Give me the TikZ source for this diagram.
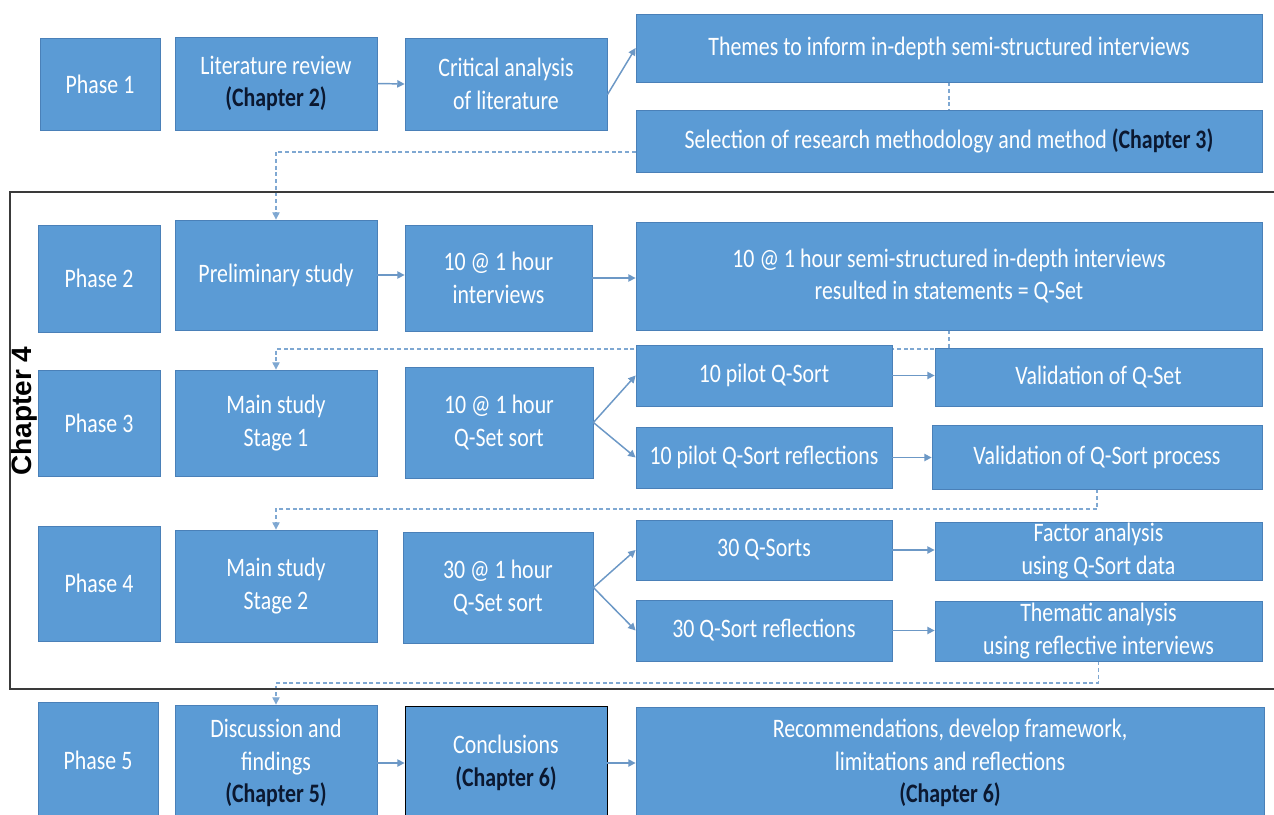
\documentclass[tikz,border=0pt]{standalone}
\usepackage{fontspec}
\setmainfont{Carlito}[FakeStretch=0.82]
\newfontfamily\chapfamily{Liberation Sans}
\usetikzlibrary{arrows.meta,backgrounds}

\definecolor{boxfill}{HTML}{5B9BD5}
\definecolor{boxline}{HTML}{4A80B8}
\definecolor{arrowc}{HTML}{6C98C6}
\definecolor{dashc}{HTML}{7FA8D2}
\definecolor{chapc}{HTML}{0B1830}
\definecolor{framec}{HTML}{3A3A3A}

\newcommand\boxfont{\fontsize{20pt}{24.5pt}\selectfont}
\newcommand\chref[1]{\textbf{\color{chapc}#1}}

% box given by its pixel corners: [opts]{name}{x1}{x2}{y1}{y2}{text}
\newcommand\pbox[7][]{%
  \node[pbox,#1,minimum width={(#4-#3)*0.75pt},minimum height={(#6-#5)*0.75pt}]
    (#2) at ({(#3+#4)/2},{(#5+#6)/2}) {#7};}

\tikzset{
  pbox/.style={draw=boxline, fill=boxfill, line width=0.6pt, text=white,
    align=center, inner sep=0pt, font=\boxfont},
  conn/.style={draw=arrowc, line width=1.1pt,
    -{Triangle[length=5.5pt,width=5.5pt]}},
  dconn/.style={draw=dashc, line width=0.8pt, dash pattern=on 3pt off 2pt},
  dconnarr/.style={dconn, -{Triangle[length=5.5pt,width=5.5pt]}},
  frameline/.style={draw=framec, line width=1.1pt},
}

\begin{document}
\begin{tikzpicture}[x=0.75pt,y=-0.75pt]
\useasboundingbox (0,0) rectangle (1274,814);

% Phase 1
\pbox{p1}{40}{160}{38}{130}{Phase 1}
\pbox{lit}{175}{377}{37}{130}{Literature review\\\chref{(Chapter 2)}}
\pbox{crit}{405}{607}{38}{130}{Critical analysis\\of literature}
\pbox{themes}{636}{1262}{14}{82}{Themes to inform in-depth semi-structured interviews}
\pbox{sel}{636}{1262}{110}{172}{Selection of research methodology and method \chref{(Chapter 3)}}

% Phase 2
\pbox{p2}{38}{160}{225}{332}{Phase 2}
\pbox{prelim}{175}{377}{220}{330}{Preliminary study}
\pbox{int10}{405}{592}{225}{331}{10 @ 1 hour\\interviews}
\pbox{semi}{636}{1262}{222}{330}{10 @ 1 hour semi-structured in-depth interviews\\resulted in statements = Q-Set}

% Phase 3
\pbox{p3}{38}{160}{370}{476}{Phase 3}
\pbox{main1}{175}{377}{370}{476}{Main study\\Stage 1}
\pbox{qs1}{405}{593}{367}{478}{10 @ 1 hour\\Q-Set sort}
\pbox{pilot}{636}{892}{345}{406}{10 pilot Q-Sort}
\pbox{valqset}{935}{1262}{348}{406}{Validation of Q-Set}
\pbox{pilotrefl}{636}{892}{427}{488}{10 pilot Q-Sort reflections}
\pbox{valproc}{932}{1262}{425}{489}{Validation of Q-Sort process}

% Phase 4
\pbox{p4}{38}{160}{526}{641}{Phase 4}
\pbox{main2}{175}{377}{530}{642}{Main study\\Stage 2}
\pbox{qs2}{403}{593}{532}{643}{30 @ 1 hour\\Q-Set sort}
\pbox{qs30}{636}{892}{520}{580}{30 Q-Sorts}
\pbox{factor}{935}{1262}{522}{580}{Factor analysis\\using Q-Sort data}
\pbox{refl30}{636}{892}{600}{661}{30 Q-Sort reflections}
\pbox{thematic}{935}{1262}{601}{661}{Thematic analysis\\using reflective interviews}

% Phase 5
\pbox{p5}{38}{158}{702}{819}{Phase 5}
\pbox{disc}{175}{377}{705}{821}{Discussion and\\findings\\\chref{(Chapter 5)}}
\pbox[draw=black]{concl}{405}{607}{706}{820}{Conclusions\\\chref{(Chapter 6)}}
\pbox{recom}{636}{1264}{707}{819}{Recommendations, develop framework,\\limitations and reflections\\\chref{(Chapter 6)}}

% Chapter 4 frame and its label
\draw[frameline] (1285,192) -- (10,192) -- (10,689) -- (1285,689);
\node[rotate=90, font=\chapfamily\bfseries\fontsize{21pt}{25pt}\selectfont,
  inner sep=0pt] (ch4) at (24,411) {Chapter 4};

% solid connectors
\draw[conn] (lit.east) -- (crit.east -| crit.west) ;
\draw[conn] ([yshift=-8pt]crit.east) -- (themes.west);
\draw[conn] (prelim.east) -- (prelim.east -| int10.west);
\draw[conn] (int10.east) -- (int10.east -| semi.west);
\draw[conn] (qs1.east) -- (pilot.west);
\draw[conn] (qs1.east) -- (pilotrefl.west);
\draw[conn] (pilot.east) -- (pilot.east -| valqset.west);
\draw[conn] (pilotrefl.east) -- (pilotrefl.east -| valproc.west);
\draw[conn] (qs2.east) -- (qs30.west);
\draw[conn] (qs2.east) -- (refl30.west);
\draw[conn] (qs30.east) -- (qs30.east -| factor.west);
\draw[conn] (refl30.east) -- (refl30.east -| thematic.west);
\draw[conn] (disc.east |- concl.east) -- (concl.west);
\draw[conn] (concl.east) -- (concl.east -| recom.west);

% dashed links between phases, kept behind the boxes
\begin{scope}[on background layer]
  \fill[white] (0,0) rectangle (1274,814);
  \coordinate (bendA) at (0,152);
  \coordinate (bendB) at (0,349);
  \coordinate (bendC) at (0,509);
  \coordinate (bendD) at (0,683);
  \draw[dconn] (themes.south) -- (sel.north);
  \draw[dconnarr] (sel.west |- bendA) -- (prelim.north |- bendA) -- (prelim.north);
  \draw[dconnarr] (semi.south) -- (semi.south |- bendB) -- (main1.north |- bendB) -- (main1.north);
  \draw[dconnarr] (valproc.south) -- (valproc.south |- bendC) -- (main2.north |- bendC) -- (main2.north);
  \draw[dconnarr] (thematic.south) -- (thematic.south |- bendD) -- (disc.north |- bendD) -- (disc.north);
\end{scope}
\end{tikzpicture}
\end{document}
